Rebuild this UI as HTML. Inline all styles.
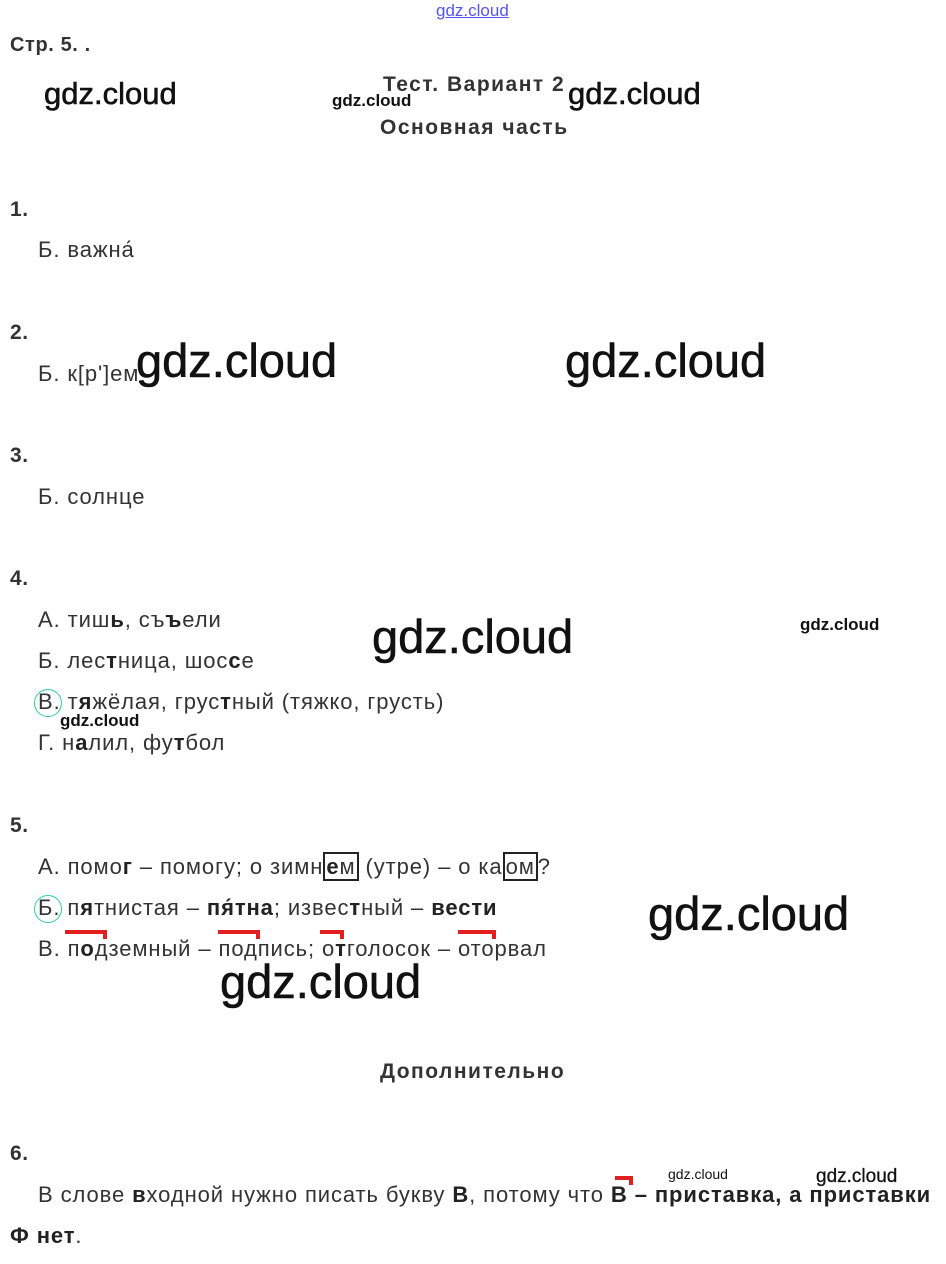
<!DOCTYPE html>
<html><head><meta charset="utf-8"><style>
body{margin:0;width:946px;height:1264px;background:#fff;position:relative;overflow:hidden;font-family:"Liberation Sans",sans-serif;color:#333}
.t{position:absolute;font-size:22px;letter-spacing:0.9px;line-height:24px;white-space:nowrap}
.n{position:absolute;font-size:21px;font-weight:bold;line-height:24px;letter-spacing:0.6px}
.h{letter-spacing:1.5px}
.w{position:absolute;color:#111;white-space:nowrap;line-height:1;-webkit-text-stroke:0.6px #111}
b{color:#222}
.box{border:2px solid #222;padding:0 1px;margin:-2px 0}
.circ{position:absolute;width:26px;height:26px;border:1.5px solid #3c9;border-radius:50%}
.red{position:absolute;height:4px;background:#e02020}
.redv{position:absolute;width:4px;height:9px;background:#e02020}
</style></head><body>
<div class="w" style="left:436px;top:2px;font-size:17px;color:#55e;text-decoration:underline;-webkit-text-stroke:0">gdz.cloud</div>
<div class="n" style="left:10px;top:33px;font-size:20px">Стр. 5. .</div>
<div class="n h" style="left:383px;top:73px;color:#333">Тест. Вариант 2</div>
<div class="n h" style="left:380px;top:116px;color:#333">Основная часть</div>
<div class="w" style="left:44px;top:78px;font-size:31px">gdz.cloud</div>
<div class="w" style="left:332px;top:92px;font-size:17px;font-weight:bold;-webkit-text-stroke:0">gdz.cloud</div>
<div class="w" style="left:568px;top:78px;font-size:31px">gdz.cloud</div>

<div class="n" style="left:10px;top:198px">1.</div>
<div class="t" style="left:38px;top:238px">Б. важна́</div>
<div class="n" style="left:10px;top:321px">2.</div>
<div class="t" style="left:38px;top:362px">Б. к[р']ем</div>
<div class="w" style="left:136px;top:337px;font-size:47px">gdz.cloud</div>
<div class="w" style="left:565px;top:337px;font-size:47px">gdz.cloud</div>
<div class="n" style="left:10px;top:444px">3.</div>
<div class="t" style="left:38px;top:485px">Б. солнце</div>

<div class="n" style="left:10px;top:567px">4.</div>
<div class="t" style="left:38px;top:608px">А. тиш<b>ь</b>, съ<b>ъ</b>ели</div>
<div class="t" style="left:38px;top:649px">Б. лес<b>т</b>ница, шос<b>с</b>е</div>
<div class="t" style="left:38px;top:690px">В. т<b>я</b>жёлая, грус<b>т</b>ный (тяжко, грусть)</div>
<div class="circ" style="left:34px;top:689px"></div>
<div class="t" style="left:38px;top:731px">Г. н<b>а</b>лил, фу<b>т</b>бол</div>
<div class="w" style="left:372px;top:613px;font-size:47px">gdz.cloud</div>
<div class="w" style="left:800px;top:616px;font-size:17px;font-weight:bold;-webkit-text-stroke:0">gdz.cloud</div>
<div class="w" style="left:60px;top:712px;font-size:17px;font-weight:bold;-webkit-text-stroke:0">gdz.cloud</div>

<div class="n" style="left:10px;top:814px">5.</div>
<div class="t" style="left:38px;top:855px">А. помо<b>г</b> – помогу; о зимн<span class="box"><b>е</b>м</span> (утре) – о ка<span class="box">ом</span>?</div>
<div class="t" style="left:38px;top:896px">Б. п<b>я</b>тнистая – <b>пя́тна</b>; извес<b>т</b>ный – <b>вести</b></div>
<div class="circ" style="left:34px;top:895px"></div>
<div class="t" style="left:38px;top:937px">В. п<b>о</b>дземный – подпись; о<b>т</b>голосок – оторвал</div>
<div class="red" style="left:65px;top:930px;width:42px"></div><div class="redv" style="left:103px;top:930px"></div>
<div class="red" style="left:218px;top:930px;width:42px"></div><div class="redv" style="left:256px;top:930px"></div>
<div class="red" style="left:320px;top:930px;width:24px"></div><div class="redv" style="left:340px;top:930px"></div>
<div class="red" style="left:458px;top:930px;width:38px"></div><div class="redv" style="left:492px;top:930px"></div>
<div class="w" style="left:648px;top:890px;font-size:47px">gdz.cloud</div>
<div class="w" style="left:220px;top:958px;font-size:47px">gdz.cloud</div>

<div class="n h" style="left:380px;top:1060px;color:#333">Дополнительно</div>
<div class="n" style="left:10px;top:1142px">6.</div>
<div class="t" style="left:38px;top:1183px">В слове <b>в</b>ходной нужно писать букву <b>В</b>, потому что <b>В – приставка, а приставки</b></div>
<div class="red" style="left:615px;top:1176px;width:18px"></div><div class="redv" style="left:629px;top:1176px"></div>
<div class="t" style="left:10px;top:1224px"><b>Ф нет</b>.</div>
<div class="w" style="left:668px;top:1167px;font-size:14px;-webkit-text-stroke:0">gdz.cloud</div>
<div class="w" style="left:816px;top:1167px;font-size:19px;-webkit-text-stroke:0.3px #111">gdz.cloud</div>
</body></html>
